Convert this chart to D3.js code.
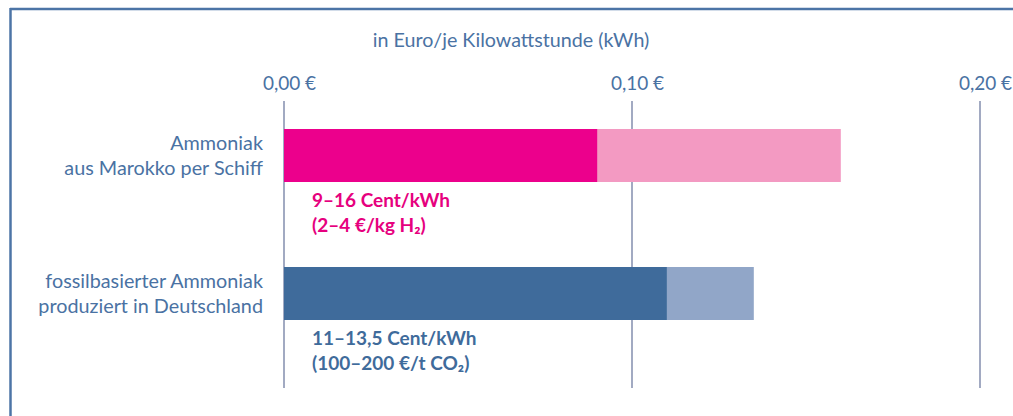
<!DOCTYPE html>
<html>
<head>
<meta charset="utf-8">
<script src="https://cdn.jsdelivr.net/npm/d3@7"></script>
<style>
  html, body { margin: 0; padding: 0; background: #fff; }
  svg { display: block; }
  text { font-family: Lato, "Open Sans", sans-serif; }
</style>
</head>
<body>
<svg id="chart" width="1013" height="416"></svg>
<script>
// Cost ranges in euro per kWh
const categories = ["marokko", "deutschland"];
const categoryLabels = [
  ["Ammoniak", "aus Marokko per Schiff"],
  ["fossilbasierter Ammoniak", "produziert in Deutschland"]
];
const lowValues = [0.09, 0.11];
const highValues = [0.16, 0.135];
const rangeLabels = [
  ["9–16 Cent/kWh", "(2–4 €/kg H₂)"],
  ["11–13,5 Cent/kWh", "(100–200 €/t CO₂)"]
];
const tickValues = [0, 0.1, 0.2];
const tickLabels = ["0,00 €", "0,10 €", "0,20 €"];
const axisTitle = "in Euro/je Kilowattstunde (kWh)";

const darkColors = ["#ec008c", "#3f6b9b"];
const lightColors = ["#f39ac2", "#91a6c8"];
const labelColors = ["#e6007e", "#3f6b9b"];
const textBlue = "#4a72a3";

const svg = d3.select("#chart");

const x = d3.scaleLinear().domain([0, 0.2]).range([284, 980]);
const y = d3.scaleBand().domain(categories).range([129, 320])
  .paddingInner(1 - 53 / 138).paddingOuter(0);

// frame
svg.append("line").attr("x1", 10).attr("x2", 1013).attr("y1", 9).attr("y2", 9)
  .attr("stroke", "#4c74a6").attr("stroke-width", 2.5);
svg.append("line").attr("x1", 10.5).attr("x2", 10.5).attr("y1", 8).attr("y2", 416)
  .attr("stroke", "#4c74a6").attr("stroke-width", 2.5);

// axis title
svg.append("text").attr("x", 511).attr("y", 47).attr("text-anchor", "middle")
  .attr("fill", textBlue).attr("font-size", 19.7).text(axisTitle);

// grid + tick labels
const axis = d3.axisTop(x).tickValues(tickValues)
  .tickFormat((d, i) => tickLabels[i]).tickSize(0).tickPadding(0);
const axisG = svg.append("g").attr("transform", "translate(0,90)").call(axis);
axisG.select(".domain").remove();
axisG.selectAll("text").attr("fill", textBlue).attr("font-size", 19)
  .attr("font-family", "Lato, sans-serif").attr("dy", 0).attr("dx", 5);

svg.append("g").selectAll("line").data(tickValues).join("line")
  .attr("x1", d => x(d)).attr("x2", d => x(d))
  .attr("y1", 101).attr("y2", 388)
  .attr("stroke", "#a2aac2").attr("stroke-width", 2);

// bars: light full range first, dark lower part on top
const bars = svg.append("g");
bars.selectAll("rect.high").data(categories).join("rect").attr("class", "high")
  .attr("x", x(0)).attr("y", d => y(d))
  .attr("width", (d, i) => x(highValues[i]) - x(0))
  .attr("height", y.bandwidth())
  .attr("fill", (d, i) => lightColors[i]);
bars.selectAll("rect.low").data(categories).join("rect").attr("class", "low")
  .attr("x", x(0)).attr("y", d => y(d))
  .attr("width", (d, i) => x(lowValues[i]) - x(0))
  .attr("height", y.bandwidth())
  .attr("fill", (d, i) => darkColors[i]);

// category labels
categories.forEach((c, i) => {
  const mid = y(c) + y.bandwidth() / 2;
  const t = svg.append("text").attr("text-anchor", "end")
    .attr("fill", textBlue).attr("font-size", 19.8);
  categoryLabels[i].forEach((line, j) => {
    t.append("tspan").attr("x", 263).attr("y", mid - 5.5 + j * 25).text(line);
  });
});

// range labels under the bars
categories.forEach((c, i) => {
  const bottom = y(c) + y.bandwidth();
  const t = svg.append("text").attr("fill", labelColors[i])
    .attr("font-size", 19).attr("font-weight", "bold");
  rangeLabels[i].forEach((line, j) => {
    t.append("tspan").attr("x", 312).attr("y", bottom + 25 + j * 25).text(line);
  });
});
</script>
</body>
</html>
